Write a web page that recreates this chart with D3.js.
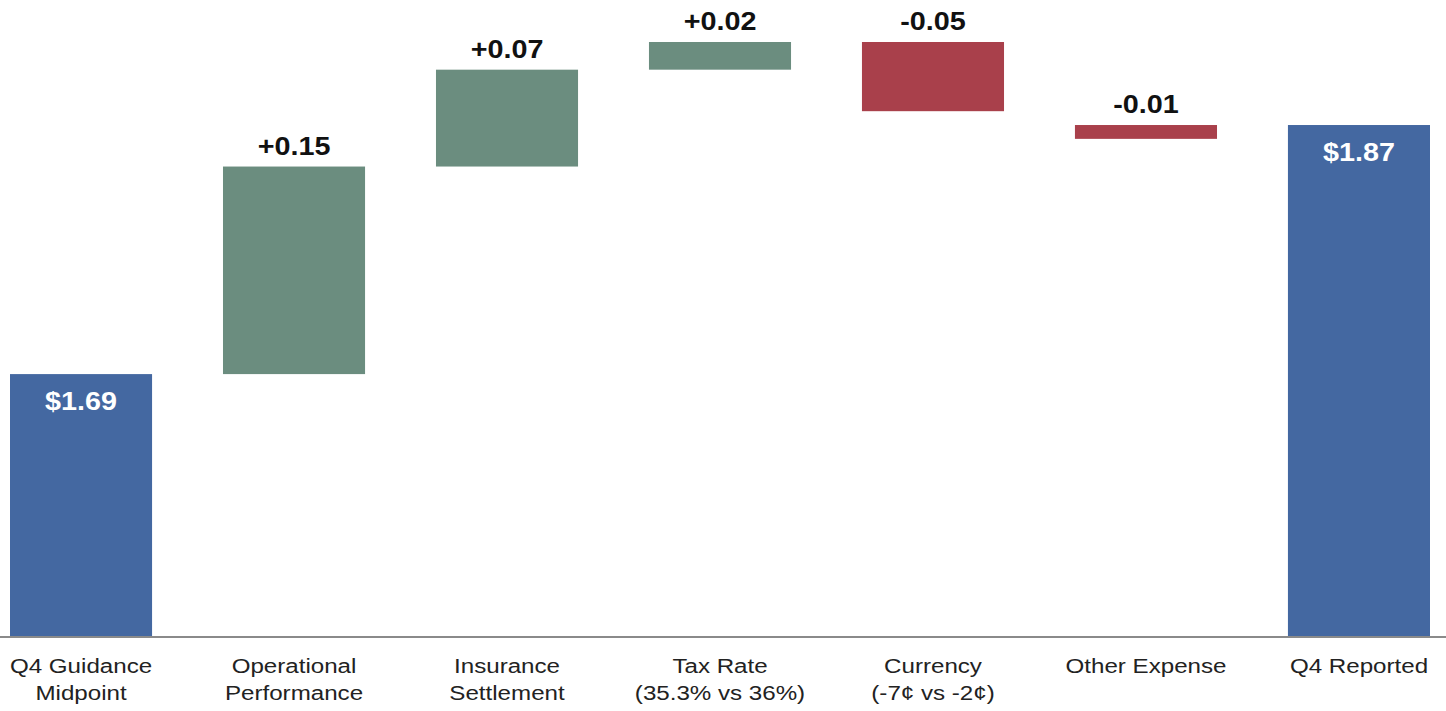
<!DOCTYPE html>
<html>
<head>
<meta charset="utf-8">
<script src="https://cdn.jsdelivr.net/npm/d3@7"></script>
<style>
  body { margin: 0; background: #fff; }
  text { font-family: "Liberation Sans", Arial, sans-serif; }
</style>
</head>
<body>
<svg id="waterfall" width="1446" height="711"></svg>
<script>
// data, bar ends
let categories = ["Q4 Guidance|Midpoint", "Operational|Performance", "Insurance|Settlement",
  "Tax Rate|(35.3% vs 36%)", "Currency|(-7¢ vs -2¢)", "Other Expense", "Q4 Reported"];
let barLow  = [1.50, 1.69, 1.84, 1.91, 1.88, 1.86, 1.50];
let barHigh = [1.69, 1.84, 1.91, 1.93, 1.93, 1.87, 1.87];
let stepTypes = ["total", "up", "up", "up", "down", "down", "total"];
let valueLabels = ["$1.69", "+0.15", "+0.07", "+0.02", "-0.05", "-0.01", "$1.87"];

function drawWaterfall(){
  let svg = d3.select("#waterfall"),
      baseY = 637,
      stretch = 1.15;

  let rows = categories.map((c, i) => ({name: c, low: barLow[i], high: barHigh[i], type: stepTypes[i], label: valueLabels[i]}));

  let x = d3.scaleBand()
    .domain(categories)
    .range([10, 1430])
    .paddingInner(0.333)
    .paddingOuter(0);

  let y = d3.scaleLinear()
    .domain([1.5, 1.93])
    .range([baseY, 42]);

  let color = {total: "#4468a1", up: "#6b8d7f", down: "#a9404b"};

  let g = svg.append("g");

  g.selectAll(".bar")
    .data(rows)
    .enter()
    .append("rect")
    .attr("class", "bar")
    .attr("x", d => x(d.name))
    .attr("y", d => y(d.high))
    .attr("width", x.bandwidth())
    .attr("height", d => y(d.low) - y(d.high))
    .style("fill", d => color[d.type]);

  // baseline
  let xAxis = g.append("g")
    .attr("class", "x axis")
    .attr("transform", "translate(0," + baseY + ")")
    .call(d3.axisBottom(x).tickSize(0).tickFormat(""));
  xAxis.select(".domain").remove();
  xAxis.append("line")
    .attr("x1", 0).attr("x2", 1446)
    .attr("stroke", "#8a8a8a").attr("stroke-width", 2);

  // category labels, split on |
  xAxis.selectAll(".tick").each(function(d){
    let t = d3.select(this).append("text")
      .attr("fill", "#222")
      .attr("text-anchor", "middle")
      .attr("transform", "scale(" + stretch + ",1)")
      .style("font-size", "21px");
    d.split("|").forEach((s, i) => {
      t.append("tspan").attr("x", 0).attr("y", 36 + i * 27).text(s);
    });
  });

  // value labels
  g.selectAll(".val")
    .data(rows)
    .enter()
    .append("text")
    .attr("class", "val")
    .attr("transform", d => {
      let cx = x(d.name) + x.bandwidth() / 2;
      let cy = d.type == "total" ? y(d.high) + 36 : y(d.high) - 12;
      return "translate(" + cx + "," + cy + ") scale(" + stretch + ",1)";
    })
    .attr("text-anchor", "middle")
    .style("font-size", "25px")
    .style("font-weight", "bold")
    .style("fill", d => d.type == "total" ? "#fff" : "#111")
    .text(d => d.label);
}

drawWaterfall();
</script>
</body>
</html>
